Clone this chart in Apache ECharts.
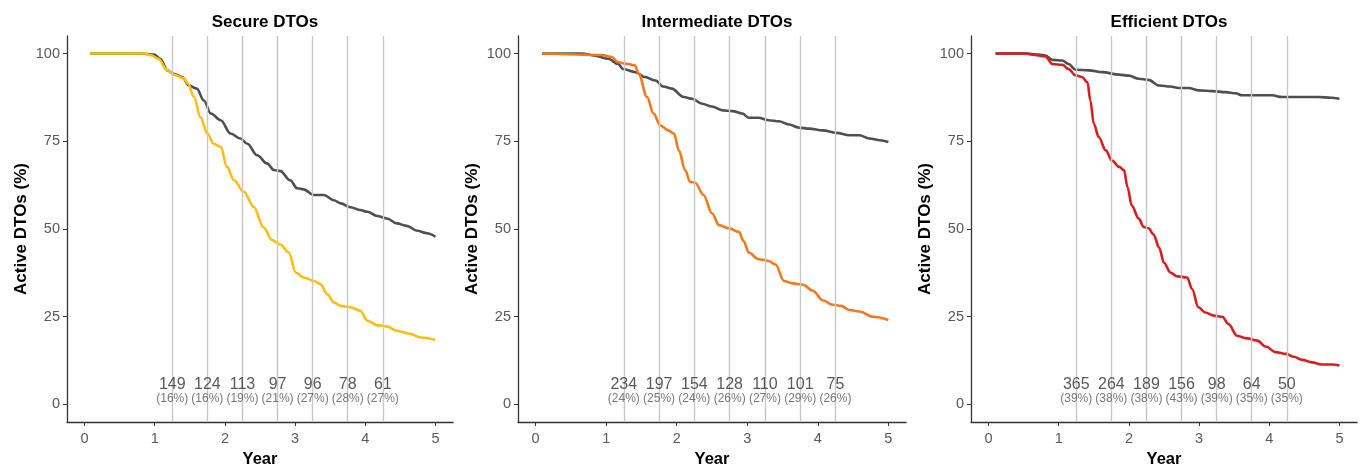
<!DOCTYPE html>
<html>
<head>
<meta charset="utf-8">
<title>Active DTOs over time</title>
<script src="https://cdn.jsdelivr.net/npm/echarts@6/dist/echarts.min.js"></script>
<style>
  html, body { margin: 0; padding: 0; background: #ffffff; }
  #chart { width: 1364px; height: 467px; }
</style>
</head>
<body>
<div id="chart"></div>
<script>
// Panel titles
const panelTitles = ['Secure DTOs', 'Intermediate DTOs', 'Efficient DTOs'];

// Axis tick values
const yearTicks = [0, 1, 2, 3, 4, 5];
const pctTicks = [0, 25, 50, 75, 100];

// Reference years where the count annotations sit
const markYears = [1.25, 1.75, 2.25, 2.75, 3.25, 3.75, 4.25];

// Survival curves: [year, active %]
const secureGroup = [[0.08,100],[0.85,100],[0.95,99.5],[1.05,98.5],[1.18,95.2],[1.27,94],[1.41,93],[1.47,91.5],[1.56,87.6],[1.65,81.9],[1.75,77.2],[1.84,74.3],[1.94,73.4],[2.03,67.7],[2.13,63.9],[2.27,60.6],[2.41,56.3],[2.55,50.5],[2.67,46.9],[2.79,45.6],[2.91,43.3],[3.01,37.6],[3.12,36.2],[3.27,35.2],[3.36,34.3],[3.46,31.4],[3.55,29.1],[3.65,28.1],[3.79,27.7],[3.93,26.7],[4.03,23.9],[4.17,22.6],[4.31,22.2],[4.45,21.0],[4.64,20.1],[4.79,19.1],[5.0,18.4]];
const secureOthers = [[0.08,100],[0.8,100],[0.99,99.7],[1.08,98.5],[1.18,95.2],[1.27,94.2],[1.39,93.3],[1.49,90.9],[1.60,90],[1.70,86.6],[1.80,82.9],[1.94,81],[2.08,77.2],[2.22,75.8],[2.32,74.3],[2.46,71],[2.60,68.7],[2.70,66.8],[2.79,66.5],[2.93,63.9],[3.03,61.6],[3.12,61.3],[3.27,59.7],[3.41,59.7],[3.55,58.2],[3.65,57.3],[3.79,56.2],[3.93,55.4],[4.03,54.9],[4.17,53.7],[4.31,53.0],[4.45,51.6],[4.59,50.9],[4.74,49.5],[4.88,48.8],[5.0,47.8]];

const intermediateGroup = [[0.09,100],[0.94,99.6],[1.08,99],[1.17,97.5],[1.31,97],[1.41,96.6],[1.46,94.2],[1.58,87.6],[1.67,82.9],[1.77,79.5],[1.88,78.1],[1.96,77.2],[2.03,72.4],[2.12,66.8],[2.19,63.4],[2.26,63.2],[2.38,59.7],[2.50,54.5],[2.60,51.1],[2.74,50.2],[2.88,49.2],[2.95,46.5],[3.02,43.3],[3.16,41.4],[3.30,40.9],[3.40,39.9],[3.52,35.2],[3.64,34.5],[3.79,34.1],[3.93,32.4],[4.07,29.7],[4.21,28.4],[4.33,28.1],[4.45,26.9],[4.59,26.5],[4.78,25],[5.0,24.1]];
const intermediateOthers = [[0.09,100],[0.65,100],[0.84,99.4],[1.03,98.5],[1.17,97],[1.24,95.6],[1.41,94.7],[1.55,93.3],[1.70,92.3],[1.81,90.6],[1.93,90],[2.10,87.6],[2.22,87.1],[2.36,85.7],[2.50,84.9],[2.65,83.8],[2.79,83.6],[2.93,82.9],[3.02,81.7],[3.16,81.7],[3.30,81],[3.45,80.7],[3.59,79.8],[3.73,78.9],[3.88,78.6],[4.07,78.1],[4.26,77.4],[4.45,76.7],[4.59,76.7],[4.73,75.8],[4.88,75.3],[5.0,74.8]];

const efficientGroup = [[0.10,100],[0.53,100],[0.62,99.7],[0.81,99.2],[0.91,97],[1.05,96.8],[1.14,95.6],[1.24,93.8],[1.33,93.3],[1.41,91.8],[1.45,86.6],[1.50,80],[1.57,76.2],[1.67,72.4],[1.76,69.5],[1.86,67.7],[1.93,66.8],[1.98,61.9],[2.04,56.7],[2.14,53],[2.21,50.6],[2.28,50.2],[2.35,48.5],[2.43,44.7],[2.50,40.4],[2.59,37.6],[2.69,36.5],[2.83,36.2],[2.90,32.9],[2.99,27.7],[3.09,26.2],[3.21,25.3],[3.33,25.0],[3.42,22.9],[3.54,19.6],[3.66,18.9],[3.83,18.2],[3.95,16.5],[4.09,14.9],[4.24,14.4],[4.35,13.6],[4.47,12.7],[4.61,12.0],[4.75,11.4],[4.90,11.4],[5.0,11.1]];
const efficientOthers = [[0.10,100],[0.53,100],[0.72,99.7],[0.81,99.4],[0.91,98.2],[1.05,98],[1.14,97],[1.24,95.4],[1.43,95.2],[1.62,94.7],[1.86,94],[2.0,93.7],[2.14,92.8],[2.28,92.5],[2.43,90.9],[2.59,90.6],[2.71,90.2],[2.85,90.2],[3.0,89.5],[3.19,89.3],[3.38,89.0],[3.52,88.7],[3.61,88.1],[3.80,88.1],[4.04,88.1],[4.18,87.6],[4.42,87.6],[4.70,87.6],[4.88,87.4],[5.0,87.1]];

// Counts still active at each reference year, and their share
const secureCounts = [149, 124, 113, 97, 96, 78, 61];
const securePct = ['16%', '16%', '19%', '21%', '27%', '28%', '27%'];
const intermediateCounts = [234, 197, 154, 128, 110, 101, 75];
const intermediatePct = ['24%', '25%', '24%', '26%', '27%', '29%', '26%'];
const efficientCounts = [365, 264, 189, 156, 98, 64, 50];
const efficientPct = ['39%', '38%', '38%', '43%', '39%', '35%', '35%'];

const panels = [
  { title: panelTitles[0], group: secureGroup, others: secureOthers, counts: secureCounts, pct: securePct, color: '#FDBE10' },
  { title: panelTitles[1], group: intermediateGroup, others: intermediateOthers, counts: intermediateCounts, pct: intermediatePct, color: '#F2781B' },
  { title: panelTitles[2], group: efficientGroup, others: efficientOthers, counts: efficientCounts, pct: efficientPct, color: '#D81E1E' }
];

const FONT = '"Liberation Sans", Arial, Helvetica, sans-serif';
const gridLefts = [67, 518, 971];
const gridWidths = [386, 388, 386];
const GRID_TOP = 36, GRID_H = 386;

const option = {
  backgroundColor: '#ffffff',
  animation: false,
  textStyle: { fontFamily: FONT },
  title: [],
  grid: [],
  xAxis: [],
  yAxis: [],
  series: []
};

panels.forEach((p, i) => {
  option.title.push({
    text: p.title,
    left: gridLefts[i] + gridWidths[i] / 2,
    top: 9,
    textAlign: 'center',
    textStyle: { fontFamily: FONT, fontSize: 17, fontWeight: 'bold', color: '#000' }
  });
  option.grid.push({
    left: gridLefts[i], top: GRID_TOP, width: gridWidths[i], height: GRID_H,
    containLabel: false, outerBoundsMode: 'none'
  });

  option.xAxis.push({
    type: 'value', gridIndex: i, min: -0.25, max: 5.25,
    name: 'Year', nameLocation: 'middle', nameGap: 28,
    nameTextStyle: { fontFamily: FONT, fontSize: 16.5, fontWeight: 'bold', color: '#000' },
    axisLine: { show: true, onZero: false, lineStyle: { color: '#333', width: 1.3 } },
    axisTick: { show: true, length: 4, customValues: yearTicks, lineStyle: { color: '#333' } },
    axisLabel: { customValues: yearTicks, margin: 9, fontSize: 14.5, color: '#595959', fontFamily: FONT },
    splitLine: { show: false }
  });
  option.yAxis.push({
    type: 'value', gridIndex: i, min: -5, max: 105,
    name: 'Active DTOs (%)', nameLocation: 'middle', nameGap: 37, nameRotate: 90,
    nameTextStyle: { fontFamily: FONT, fontSize: 17, fontWeight: 'bold', color: '#000' },
    axisLine: { show: true, onZero: false, lineStyle: { color: '#333', width: 1.3 } },
    axisTick: { show: true, length: 4, customValues: pctTicks, lineStyle: { color: '#333' } },
    axisLabel: { customValues: pctTicks, margin: 7, fontSize: 14.5, color: '#595959', fontFamily: FONT },
    splitLine: { show: false }
  });

  // Reference years as vertical rules
  option.series.push({
    type: 'line', xAxisIndex: i, yAxisIndex: i, data: [], silent: true, z: 1,
    markLine: {
      silent: true, symbol: 'none', label: { show: false },
      lineStyle: { color: '#c8c8c8', width: 1.4, type: 'solid' },
      data: markYears.map(x => ({ xAxis: x }))
    }
  });

  // Comparison curve (dark grey), then the group curve on top
  option.series.push({
    type: 'line', xAxisIndex: i, yAxisIndex: i, data: p.others,
    showSymbol: false, smooth: 0.35, smoothMonotone: 'x',
    lineStyle: { color: '#4f4f4f', width: 2.6 }, z: 3
  });
  option.series.push({
    type: 'line', xAxisIndex: i, yAxisIndex: i, data: p.group,
    showSymbol: false, smooth: 0.35, smoothMonotone: 'x',
    lineStyle: { color: p.color, width: 2.6 }, z: 4
  });

  // Count annotations and percentages under each rule
  option.series.push({
    type: 'scatter', xAxisIndex: i, yAxisIndex: i, symbolSize: 0, silent: true, z: 5,
    data: markYears.map((x, k) => [x, 5.6, String(p.counts[k])]),
    label: { show: true, position: 'inside', formatter: d => d.value[2], fontSize: 16, color: '#2e2e2e', fontFamily: FONT }
  });
  option.series.push({
    type: 'scatter', xAxisIndex: i, yAxisIndex: i, symbolSize: 0, silent: true, z: 5,
    data: markYears.map((x, k) => [x, 1.6, '(' + p.pct[k] + ')']),
    label: { show: true, position: 'inside', formatter: d => d.value[2], fontSize: 12, color: '#555', fontFamily: FONT }
  });
});

const chart = echarts.init(document.getElementById('chart'), null, { renderer: 'canvas' });
chart.setOption(option);
</script>
</body>
</html>
